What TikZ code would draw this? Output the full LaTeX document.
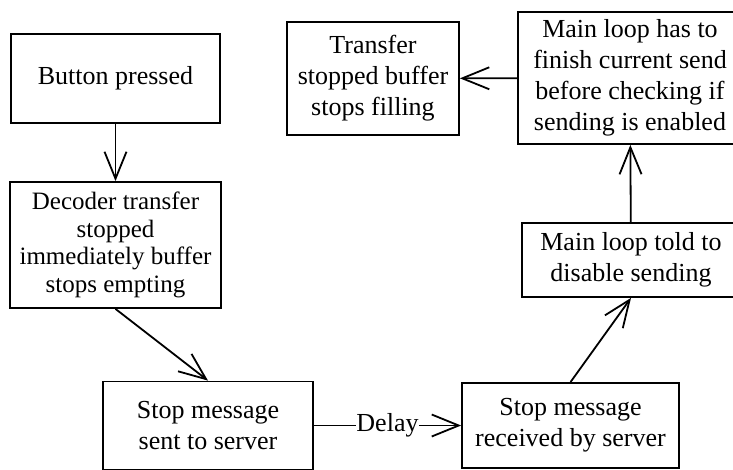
\documentclass[tikz,border=0pt]{standalone}
\usepackage{fontspec}
\setmainfont{Liberation Serif}
\usetikzlibrary{arrows.meta}

\tikzset{
	box/.style={draw, line width=1.8pt, align=center, inner sep=0pt},
	flow/.style={-{Straight Barb[length=27pt, width=22pt, line width=1.8pt]}, line width=1.8pt}
}

\begin{document}
\begin{tikzpicture}[x=1pt, y=-1pt, font=\fontsize{26}{31}\selectfont]
			\useasboundingbox (0,0) rectangle (733,469);
			% left column
			\node[box, minimum width=209pt, minimum height=89pt] (btn) at (115.5,78.5) {Button pressed};
			\node[box, minimum width=211pt, minimum height=126pt, font=\fontsize{25}{27.6}\selectfont] (dec) at (115.5,245) {Decoder transfer\\stopped\\immediately buffer\\stops empting};
			% bottom row
			\node[box, minimum width=210pt, minimum height=88pt] (sent) at (208,425.5) {Stop message\\sent to server};
			\node[box, minimum width=217pt, minimum height=85pt] (recv) at (570.5,425.5) {Stop message\\received by server};
			% right column, runs off the edge
			\node[box, minimum width=218pt, minimum height=74pt] (told) at (631,260) {Main loop told to\\disable sending};
			\node[box, minimum width=224pt, minimum height=132pt] (fin) at (630,78) {Main loop has to\\finish current send\\before checking if\\sending is enabled};
			\node[box, minimum width=172pt, minimum height=113pt] (xfer) at (373,78.5) {Transfer\\stopped buffer\\stops filling};
			\draw[flow] (btn) -- (dec);
			\draw[flow] (dec.south) -- (sent.north);
			\draw[flow] (sent) -- node[fill=white, inner sep=0pt] {Delay} (recv);
			\draw[flow] (recv.north) -- (told.south);
			\draw[flow] (told) -- (fin);
			\draw[flow] (fin) -- (xfer);
		\end{tikzpicture}
\end{document}
